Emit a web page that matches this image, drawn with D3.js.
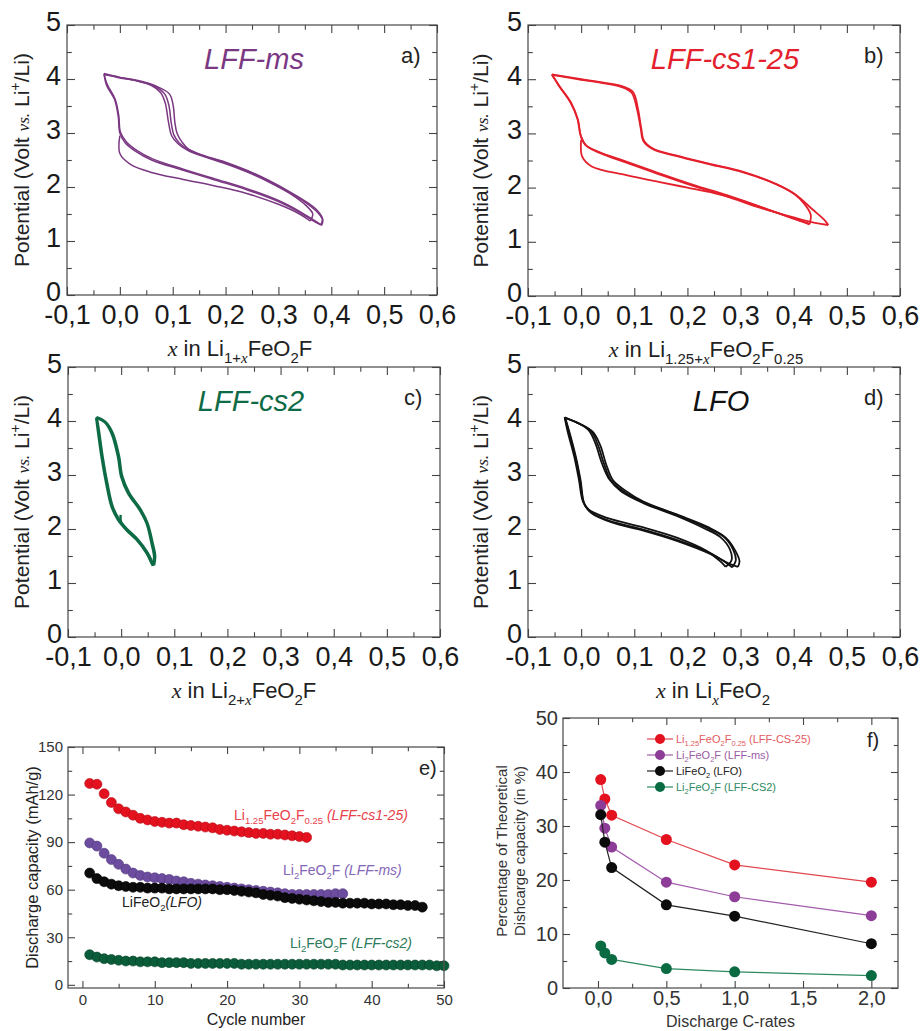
<!DOCTYPE html>
<html>
<head>
<meta charset="utf-8">
<script src="https://cdn.jsdelivr.net/npm/d3@7"></script>
<style>
  body { margin: 0; background: #fff; }
  svg { font-family: "Liberation Sans", Arial, sans-serif; }
</style>
</head>
<body>
<svg id="fig" width="921" height="1031"></svg>
<script>
// ---- voltage profiles, [x, V] ----
const msCycles = [
  [[0.0,2.95],[0.0,2.62],[0.02,2.42],[0.06,2.27],[0.12,2.14],[0.18,2.02],[0.24,1.88],[0.3,1.68],[0.34,1.5],[0.36,1.37]],
  [[0.36,1.37],[0.365,1.5],[0.352,1.66],[0.325,1.86],[0.28,2.1],[0.24,2.28],[0.2,2.43],[0.16,2.56],[0.13,2.67],[0.11,2.8],[0.098,2.95],[0.092,3.2],[0.086,3.55],[0.077,3.75],[0.06,3.88],[0.03,3.97],[0.0,4.02],[-0.03,4.09]],
  [[-0.03,4.09],[-0.025,3.88],[-0.01,3.62],[-0.003,3.3],[0.0,3.0],[0.01,2.82],[0.03,2.66],[0.06,2.5],[0.12,2.31],[0.18,2.13],[0.24,1.95],[0.3,1.73],[0.34,1.53],[0.365,1.38],[0.38,1.3]],
  [[0.38,1.3],[0.383,1.4],[0.372,1.55],[0.35,1.72],[0.32,1.9],[0.28,2.12],[0.24,2.3],[0.2,2.45],[0.16,2.57],[0.13,2.69],[0.112,2.82],[0.102,2.97],[0.097,3.2],[0.093,3.5],[0.085,3.72],[0.065,3.87],[0.03,3.97],[0.0,4.03],[-0.03,4.1]],
  [[-0.03,4.1],[-0.024,3.9],[-0.009,3.63],[-0.002,3.32],[0.001,3.02],[0.012,2.84],[0.032,2.68],[0.062,2.52],[0.12,2.33],[0.18,2.15],[0.24,1.97],[0.3,1.75],[0.34,1.55],[0.368,1.38],[0.382,1.29]],
  [[0.382,1.29],[0.384,1.4],[0.374,1.56],[0.352,1.73],[0.32,1.92],[0.28,2.13],[0.24,2.31],[0.2,2.46],[0.16,2.58],[0.13,2.7],[0.117,2.84],[0.108,3.0],[0.104,3.2],[0.101,3.5],[0.094,3.72],[0.068,3.87],[0.03,3.98],[0.0,4.03],[-0.028,4.08]]
]
const cs25Cycles = [
  [[0.0,2.88],[0.002,2.57],[0.02,2.39],[0.085,2.23],[0.148,2.1],[0.2,2.0],[0.25,1.9],[0.3,1.77],[0.35,1.6],[0.4,1.43],[0.43,1.33]],
  [[0.43,1.33],[0.432,1.5],[0.42,1.7],[0.4,1.89],[0.368,2.06],[0.305,2.28],[0.242,2.43],[0.18,2.58],[0.135,2.71],[0.117,2.86],[0.112,3.1],[0.105,3.45],[0.095,3.75],[0.075,3.86],[0.04,3.93],[0.0,3.99],[-0.055,4.08]],
  [[-0.055,4.08],[-0.04,3.86],[-0.018,3.55],[-0.006,3.25],[0.0,2.94],[0.01,2.77],[0.035,2.64],[0.085,2.46],[0.148,2.24],[0.211,2.03],[0.274,1.84],[0.336,1.63],[0.4,1.45],[0.44,1.35],[0.465,1.31]],
  [[0.465,1.31],[0.458,1.4],[0.435,1.6],[0.405,1.86],[0.368,2.06],[0.305,2.29],[0.242,2.44],[0.18,2.59],[0.135,2.72],[0.118,2.87],[0.113,3.1],[0.107,3.45],[0.098,3.76],[0.078,3.87],[0.04,3.94],[0.0,4.0],[-0.055,4.09]],
  [[-0.055,4.09],[-0.042,3.88],[-0.02,3.57],[-0.007,3.27],[-0.001,2.96],[0.008,2.79],[0.033,2.66],[0.085,2.48],[0.148,2.26],[0.211,2.05],[0.274,1.86],[0.336,1.65],[0.39,1.46],[0.42,1.36],[0.43,1.32]]
]
const cs2Cycles = [
  [[-0.001,2.26],[0.0,2.12],[0.012,1.97],[0.03,1.8],[0.048,1.57],[0.057,1.38],[0.06,1.32]],
  [[0.06,1.32],[0.062,1.49],[0.057,1.74],[0.048,2.1],[0.035,2.35],[0.013,2.66],[0.0,2.97],[-0.006,3.34],[-0.018,3.77],[-0.031,3.98],[-0.047,4.06]],
  [[-0.047,4.06],[-0.044,3.83],[-0.037,3.34],[-0.028,2.84],[-0.018,2.41],[-0.006,2.17],[0.01,1.98],[0.029,1.8],[0.048,1.55],[0.057,1.37],[0.06,1.32]],
  [[0.062,1.33],[0.064,1.5],[0.059,1.75],[0.05,2.1],[0.037,2.36],[0.015,2.67],[0.002,2.98],[-0.004,3.35],[-0.016,3.78],[-0.03,3.99],[-0.046,4.07]],
  [[-0.046,4.07],[-0.042,3.84],[-0.035,3.35],[-0.026,2.85],[-0.016,2.42],[-0.004,2.18],[0.012,1.99],[0.031,1.81],[0.05,1.56],[0.059,1.38],[0.062,1.33]]
]
const lfoCycles = [
  [[-0.031,4.07],[-0.026,3.83],[-0.013,3.34],[-0.004,2.9],[0.003,2.52],[0.014,2.36],[0.05,2.2],[0.117,2.03],[0.18,1.84],[0.235,1.6],[0.262,1.4],[0.272,1.3]],
  [[0.272,1.3],[0.283,1.42],[0.28,1.62],[0.262,1.85],[0.232,2.01],[0.18,2.24],[0.117,2.48],[0.075,2.7],[0.053,2.92],[0.039,3.22],[0.027,3.58],[0.014,3.83],[-0.01,3.98],[-0.031,4.07]],
  [[-0.031,4.07],[-0.024,3.83],[-0.011,3.34],[-0.002,2.9],[0.005,2.48],[0.018,2.31],[0.056,2.14],[0.117,1.99],[0.18,1.8],[0.242,1.56],[0.272,1.38],[0.284,1.29]],
  [[0.284,1.29],[0.291,1.42],[0.286,1.62],[0.268,1.86],[0.237,2.02],[0.18,2.26],[0.117,2.5],[0.078,2.71],[0.056,2.9],[0.043,3.21],[0.031,3.57],[0.018,3.82],[-0.008,3.97],[-0.03,4.06]],
  [[-0.03,4.06],[-0.023,3.83],[-0.01,3.34],[-0.001,2.9],[0.006,2.47],[0.02,2.29],[0.058,2.12],[0.117,1.97],[0.18,1.78],[0.245,1.53],[0.278,1.36],[0.295,1.3]],
  [[0.295,1.3],[0.298,1.4],[0.29,1.6],[0.272,1.84],[0.24,2.03],[0.18,2.27],[0.117,2.51],[0.082,2.72],[0.06,2.9],[0.047,3.2],[0.036,3.55],[0.022,3.8],[-0.005,3.96],[-0.029,4.05]]
]

// ---- cycling, discharge capacity per cycle (cycle 1..n) ----
const capCs25 = [127,126.5,120.5,115,111,109,107,105,104,103,102.5,102,102,101,100.5,100,99.5,99,98,97.5,97,96.5,96,95.5,95.5,95,95,94.5,94,93.5,93]
const capMs = [89.5,87.5,83,79,76,73,70.5,69,68,67.5,67,66.5,65.5,65,64,63.5,63,62.5,62,61.5,61,60.5,60,59.5,59,58.5,58,57.5,57,57,57,57,57,57,57.5,57.5]
const capLfo = [70.5,67,65,63.5,62.5,62,61.5,61.5,61,61,61,60.5,60.5,60.5,60.5,60.5,60.5,60.5,60,60,59.5,59,58.5,58,57,56.5,56,55,54.5,54,53.5,53,52.5,52,52,51.5,51.5,51.5,51.5,51,51,51,50.5,50.5,50,50,49]
const capCs2 = [19,17.5,16.5,16,15.5,15,15,14.5,14.5,14.5,14,14,14,14,13.5,13.5,13.5,13.5,13.5,13.5,13.5,13,13,13,13,13,13,13,13,13,13,13,13,13,13,12.5,12.5,12.5,12.5,12.5,12.5,12.5,12.5,12.5,12.5,12.5,12.5,12.5,12,12]

// ---- rate capability ----
const cRates = [0.02, 0.05, 0.1, 0.5, 1.0, 2.0]
const pctCs25 = [38.6, 35, 32, 27.5, 22.8, 19.6]
const pctMs = [33.8, 29.6, 26.1, 19.6, 16.9, 13.4]
const pctLfo = [32.1, 27, 22.3, 15.4, 13.3, 8.2]
const pctCs2 = [7.8, 6.5, 5.3, 3.6, 3.0, 2.3]

// ---- ticks ----
const xTicksV = [-0.1, 0, 0.1, 0.2, 0.3, 0.4, 0.5, 0.6]
const xMinorV = [-0.05, 0.05, 0.15, 0.25, 0.35, 0.45, 0.55]
const yTicksV = [0, 1, 2, 3, 4, 5]
const yMinorV = [0.5, 1.5, 2.5, 3.5, 4.5]
const cycTicks = [0, 10, 20, 30, 40, 50]
const cycMinor = [5, 15, 25, 35, 45]
const capTicks = [0, 30, 60, 90, 120, 150]
const capMinor = [15, 45, 75, 105, 135]
const rateTicks = [0, 0.5, 1, 1.5, 2]
const rateMinor = [0.25, 0.75, 1.25, 1.75]
const pctTicks = [0, 10, 20, 30, 40, 50]
const pctMinor = [5, 15, 25, 35, 45]

const svg = d3.select('#fig')
const FONT = '"Liberation Sans", Arial, sans-serif'
const SERIF = '"Liberation Serif", "Times New Roman", serif'
const comma = d => (d < -1e-9 ? '-' : '') + Math.abs(d).toFixed(1).replace('.', ',')

// text with sub/superscripts: k has b=sub, p=sup, i=italic, x=serif italic, v=small serif italic
function rich(sel, parts, fs) {
  let shift = 0
  for (const [s, k] of parts) {
    const t = sel.append('tspan').text(s)
    let target = 0, size = fs
    if (k.includes('b')) { target = fs * 0.3; size = fs * 0.68 }
    if (k.includes('p')) { target = -fs * 0.42; size = fs * 0.68 }
    if (k.includes('x')) t.attr('font-family', SERIF).attr('font-style', 'italic')
    if (k.includes('v')) { t.attr('font-family', SERIF).attr('font-style', 'italic'); size = fs * 0.82 }
    if (k.includes('i')) t.attr('font-style', 'italic')
    t.attr('font-size', size)
    if (target !== shift) t.attr('dy', target - shift)
    shift = target
  }
  return sel
}

function addAxis(g, make, scale, tr, o) {
  const a = g.append('g')
  if (tr) a.attr('transform', tr)
  a.call(make(scale).tickValues(o.major).tickSize(-o.len).tickPadding(o.pad || 0)
    .tickFormat(o.fmt || (() => '')))
  a.append('g').call(make(scale).tickValues(o.minor).tickSize(-o.len * 0.6).tickFormat(() => ''))
  a.selectAll('.domain').remove()
  a.selectAll('line').attr('stroke', '#444').attr('stroke-width', 1.1)
  a.attr('font-size', o.fs).attr('font-family', FONT)
  a.selectAll('text').attr('fill', o.color || '#222')
  if (o.dy) a.selectAll('text').attr('dy', o.dy)
}

function frame(g, x, y, w, h, o) {
  g.append('rect').attr('width', w).attr('height', h)
    .attr('fill', 'none').attr('stroke', '#555').attr('stroke-width', 1.3)
  addAxis(g, d3.axisBottom, x, `translate(0,${h})`, { major: o.xMajor, minor: o.xMinor, len: o.len, pad: o.padX, fmt: o.xFmt, fs: o.fs, color: o.color })
  addAxis(g, d3.axisTop, x, null, { major: o.xMajor, minor: o.xMinor, len: o.len })
  addAxis(g, d3.axisLeft, y, null, { major: o.yMajor, minor: o.yMinor, len: o.len, pad: o.padY, fmt: o.yFmt, fs: o.fs, color: o.color, dy: o.yDy })
  addAxis(g, d3.axisRight, y, `translate(${w},0)`, { major: o.yMajor, minor: o.yMinor, len: o.len })
}

const potTitle = [['Potential (Volt ', ''], ['vs.', 'v'], [' Li', ''], ['+', 'p'], ['/Li)', '']]

function voltagePanel(p) {
  const g = svg.append('g').attr('transform', `translate(${p.x0},${p.y0})`)
  const x = d3.scaleLinear().domain([-0.1, 0.6]).range([0, p.w])
  const y = d3.scaleLinear().domain([0, 5]).range([p.h, 0])
  const line = d3.line().x(d => x(d[0])).y(d => y(d[1])).curve(d3.curveCatmullRom.alpha(0.5))
  g.selectAll('path.cyc').data(p.cycles).join('path')
    .attr('class', 'cyc').attr('d', line)
    .attr('fill', 'none').attr('stroke', p.color).attr('stroke-width', p.sw)
    .attr('stroke-linejoin', 'round')
  frame(g, x, y, p.w, p.h, {
    xMajor: xTicksV, xMinor: xMinorV, yMajor: yTicksV, yMinor: yMinorV,
    len: 8, padX: 10, padY: 6, xFmt: comma, yFmt: d3.format('d'), fs: 27, color: '#1a1a1a', yDy: '0.2em'
  })
  g.append('text').attr('x', p.w * 0.5 - 0.5 * (p.w - 370) + p.nameDx).attr('y', p.nameY)
    .attr('text-anchor', 'middle').attr('font-style', 'italic').attr('font-size', 29)
    .attr('fill', p.color).text(p.name)
  g.append('text').attr('x', p.w - 36).attr('y', 38).attr('font-size', 22)
    .attr('fill', '#222').text(p.tag)
  rich(g.append('text').attr('x', p.w / 2 + p.titleDx).attr('y', p.h + 61)
    .attr('text-anchor', 'middle').attr('fill', '#222'), p.xTitle, 22)
  rich(g.append('text').attr('transform', `translate(${p.yTitleX - p.x0},${p.h / 2}) rotate(-90)`)
    .attr('text-anchor', 'middle').attr('fill', '#222'), potTitle, 21)
}

voltagePanel({
  x0: 67, y0: 25, w: 370, h: 270, cycles: msCycles, color: '#7b3882', sw: 1.5,
  name: 'LFF-ms', nameDx: 2, nameY: 44, tag: 'a)', yTitleX: 29, titleDx: -12,
  xTitle: [['x', 'x'], [' in Li', ''], ['1+', 'b'], ['x', 'bx'], ['FeO', ''], ['2', 'b'], ['F', '']]
})
voltagePanel({
  x0: 528, y0: 25, w: 372, h: 271, cycles: cs25Cycles, color: '#e3202c', sw: 1.8,
  name: 'LFF-cs1-25', nameDx: 12, nameY: 44, tag: 'b)', yTitleX: 488, titleDx: -8,
  xTitle: [['x', 'x'], [' in Li', ''], ['1.25+', 'b'], ['x', 'bx'], ['FeO', ''], ['2', 'b'], ['F', ''], ['0.25', 'b']]
})
voltagePanel({
  x0: 68, y0: 367, w: 372, h: 270, cycles: cs2Cycles, color: '#0d6b45', sw: 2.4,
  name: 'LFF-cs2', nameDx: -2, nameY: 44, tag: 'c)', yTitleX: 29, titleDx: -10,
  xTitle: [['x', 'x'], [' in Li', ''], ['2+', 'b'], ['x', 'bx'], ['FeO', ''], ['2', 'b'], ['F', '']]
})
voltagePanel({
  x0: 528, y0: 367, w: 372, h: 270, cycles: lfoCycles, color: '#111', sw: 1.8,
  name: 'LFO', nameDx: 8, nameY: 44, tag: 'd)', yTitleX: 488, titleDx: -1,
  xTitle: [['x', 'x'], [' in Li', ''], ['x', 'bx'], ['FeO', ''], ['2', 'b']]
})

// ---- panel e: cycling ----
{
  const W = 376, H = 241
  const g = svg.append('g').attr('transform', 'translate(68,747)')
  const x = d3.scaleLinear().domain([-2, 50]).range([0, W])
  const y = d3.scaleLinear().domain([-2, 150]).range([H, 0])
  const series = [
    { v: capCs25, c: '#e3121e', s: '#b50d17' },
    { v: capMs, c: '#6b4c9e', s: '#54397f' },
    { v: capLfo, c: '#0b0b0b', s: '#000' },
    { v: capCs2, c: '#0b5c38', s: '#07432a' }
  ]
  series.forEach(sr => {
    g.append('g').selectAll('circle').data(sr.v).join('circle')
      .attr('cx', (d, i) => x(i + 1)).attr('cy', d => y(d)).attr('r', 5)
      .attr('fill', sr.c).attr('stroke', sr.s).attr('stroke-width', 0.6)
  })
  frame(g, x, y, W, H, {
    xMajor: cycTicks, xMinor: cycMinor, yMajor: capTicks, yMinor: capMinor,
    len: 7, padX: 6, padY: 5, xFmt: d3.format('d'), yFmt: d3.format('d'), fs: 15, color: '#333'
  })
  const lab = (x0, y0, col, parts) =>
    rich(g.append('text').attr('x', x0 - 68).attr('y', y0 - 747).attr('fill', col), parts, 14)
  lab(234, 820, '#e8414b', [['Li', ''], ['1.25', 'b'], ['FeO', ''], ['2', 'b'], ['F', ''], ['0.25', 'b'], [' (LFF-cs1-25)', 'i']])
  lab(283, 875, '#8466b8', [['Li', ''], ['2', 'b'], ['FeO', ''], ['2', 'b'], ['F', ''], [' (LFF-ms)', 'i']])
  lab(122, 907, '#222', [['LiFeO', ''], ['2', 'b'], ['(LFO)', 'i']])
  lab(290, 948, '#2b7a58', [['Li', ''], ['2', 'b'], ['FeO', ''], ['2', 'b'], ['F', ''], [' (LFF-cs2)', 'i']])
  g.append('text').attr('x', W - 25).attr('y', 28).attr('font-size', 20).attr('fill', '#222').text('e)')
  g.append('text').attr('x', W / 2).attr('y', 1025 - 747).attr('text-anchor', 'middle')
    .attr('font-size', 16).attr('fill', '#222').text('Cycle number')
  g.append('text').attr('transform', `translate(${38 - 68},${H / 2}) rotate(-90)`)
    .attr('text-anchor', 'middle').attr('font-size', 16.5).attr('fill', '#222')
    .text('Discharge capacity (mAh/g)')
}

// ---- panel f: rate capability ----
{
  const W = 335, H = 270
  const g = svg.append('g').attr('transform', 'translate(563,718)')
  const x = d3.scaleLinear().domain([-0.256, 2.195]).range([0, W])
  const y = d3.scaleLinear().domain([0, 50]).range([H, 0])
  const series = [
    { v: pctCs25, c: '#e3121e', l: '#e0484f', t: '#e25a60', name: [['Li', ''], ['1.25', 'b'], ['FeO', ''], ['2', 'b'], ['F', ''], ['0.25', 'b'], [' (LFF-CS-25)', '']] },
    { v: pctMs, c: '#8d3c98', l: '#a35aac', t: '#9b5aa5', name: [['Li', ''], ['2', 'b'], ['FeO', ''], ['2', 'b'], ['F (LFF-ms)', '']] },
    { v: pctLfo, c: '#0b0b0b', l: '#222', t: '#222', name: [['LiFeO', ''], ['2', 'b'], [' (LFO)', '']] },
    { v: pctCs2, c: '#0a6a42', l: '#2e8a62', t: '#2e8a62', name: [['Li', ''], ['2', 'b'], ['FeO', ''], ['2', 'b'], ['F (LFF-CS2)', '']] }
  ]
  const line = d3.line().x((d, i) => x(cRates[i])).y(d => y(d))
  series.forEach(sr => {
    g.append('path').attr('d', line(sr.v)).attr('fill', 'none')
      .attr('stroke', sr.l).attr('stroke-width', 1.2)
    g.append('g').selectAll('circle').data(sr.v).join('circle')
      .attr('cx', (d, i) => x(cRates[i])).attr('cy', d => y(d)).attr('r', 5.5)
      .attr('fill', sr.c)
  })
  frame(g, x, y, W, H, {
    xMajor: rateTicks, xMinor: rateMinor, yMajor: pctTicks, yMinor: pctMinor,
    len: 7, padX: 3, padY: 5, xFmt: comma, yFmt: d3.format('d'), fs: 20, color: '#333'
  })
  const leg = g.append('g').attr('transform', 'translate(84,21)')
  series.forEach((sr, i) => {
    const r = leg.append('g').attr('transform', `translate(0,${i * 16})`)
    r.append('line').attr('x1', 0).attr('x2', 26).attr('stroke', sr.l).attr('stroke-width', 1.2)
    r.append('circle').attr('cx', 13).attr('r', 5).attr('fill', sr.c)
    rich(r.append('text').attr('x', 29).attr('y', 4).attr('fill', sr.t), sr.name, 11)
  })
  g.append('text').attr('x', W - 31).attr('y', 29).attr('font-size', 20).attr('fill', '#222').text('f)')
  g.append('text').attr('x', W / 2).attr('y', 1027 - 718).attr('text-anchor', 'middle')
    .attr('font-size', 16).attr('fill', '#333').text('Discharge C-rates')
  g.append('text').attr('transform', `translate(${507 - 563},${H / 2 - 2}) rotate(-90)`)
    .attr('text-anchor', 'middle').attr('font-size', 15).attr('fill', '#333')
    .text('Percentage of Theoretical')
  g.append('text').attr('transform', `translate(${525 - 563},${H / 2 - 2}) rotate(-90)`)
    .attr('text-anchor', 'middle').attr('font-size', 15).attr('fill', '#333')
    .text('Dishcarge capacity (in %)')
}
</script>
</body>
</html>
